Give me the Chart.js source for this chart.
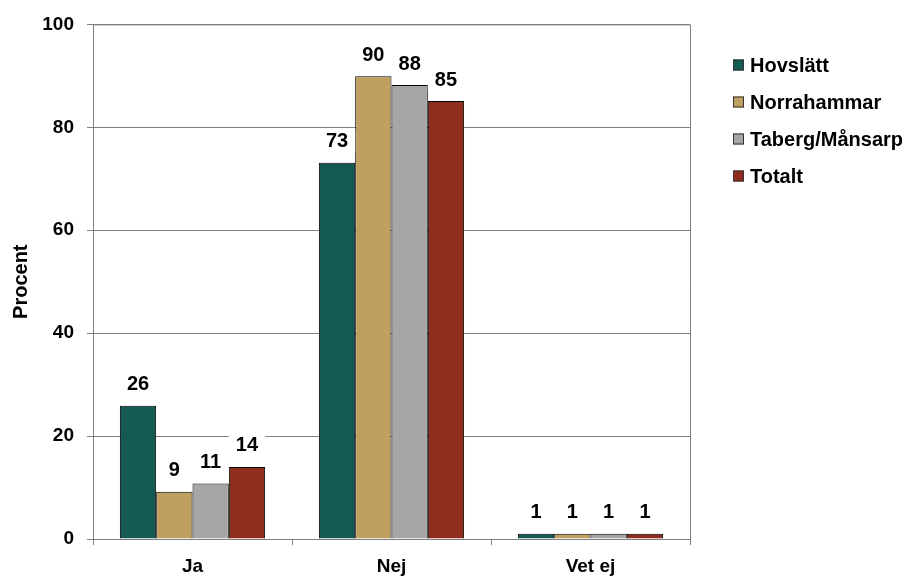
<!DOCTYPE html>
<html>
<head>
<meta charset="utf-8">
<script src="https://cdn.jsdelivr.net/npm/chart.js@4"></script>
<style>
  html, body { margin: 0; padding: 0; background: #ffffff; }
  #svarChart { display: block; }
</style>
</head>
<body>
<canvas id="svarChart" width="917" height="576"></canvas>
<script>
const categories = ["Ja", "Nej", "Vet ej"];
const hovslatt = [25.9, 73.1, 1];
const norrahammar = [9.2, 89.9, 1];
const tabergMansarp = [10.8, 88.2, 1];
const totalt = [14.0, 85.1, 1];
const yTicks = [0, 20, 40, 60, 80, 100];

const FONT = "'Liberation Sans', Arial, sans-serif";
const GRID = "#808080";

const ctx = document.getElementById("svarChart").getContext("2d");

// frame round the plot area (top + right side)
const plotFrame = {
    id: "plotFrame",
    afterDraw: (chart) => {
        const a = chart.chartArea;
        const c = chart.ctx;
        c.save();
        c.strokeStyle = GRID;
        c.lineWidth = 1;
        c.beginPath();
        c.moveTo(a.left, a.top + 0.5);
        c.lineTo(a.right + 0.5, a.top + 0.5);
        c.lineTo(a.right + 0.5, a.bottom + 5);
        c.stroke();
        c.restore();
    }
};

// value labels over the bars, on a white box
const valueLabels = {
    id: "valueLabels",
    afterDatasetsDraw: (chart) => {
        const c = chart.ctx;
        c.save();
        c.font = "bold 20px " + FONT;
        c.textAlign = "center";
        c.textBaseline = "middle";
        chart.data.datasets.forEach((ds, i) => {
            chart.getDatasetMeta(i).data.forEach((bar, j) => {
                const txt = String(Math.round(ds.data[j]));
                const w = c.measureText(txt).width + 14;
                const y = bar.y - 22;
                c.fillStyle = "#ffffff";
                c.fillRect(bar.x - w / 2, y - 11, w, 22);
                c.fillStyle = "#000000";
                c.fillText(txt, bar.x, y + 1);
            });
        });
        c.restore();
    }
};

// legend to the right of the plot
const sideLegend = {
    id: "sideLegend",
    afterDraw: (chart) => {
        const c = chart.ctx;
        c.save();
        c.font = "bold 20px " + FONT;
        c.textAlign = "left";
        c.textBaseline = "middle";
        chart.data.datasets.forEach((ds, i) => {
            const y = 65 + i * 37;
            c.fillStyle = ds.backgroundColor;
            c.fillRect(733, y - 5.5, 11, 11);
            c.strokeStyle = "#333333";
            c.lineWidth = 1;
            c.strokeRect(733.5, y - 5, 10, 10);
            c.fillStyle = "#000000";
            c.fillText(ds.label, 750, y + 1);
        });
        c.restore();
    }
};

new Chart(ctx, {
    type: "bar",
    data: {
        labels: categories,
        datasets: [
            { label: "Hovslätt", data: hovslatt, backgroundColor: "#155b54" },
            { label: "Norrahammar", data: norrahammar, backgroundColor: "#c0a05e" },
            { label: "Taberg/Månsarp", data: tabergMansarp, backgroundColor: "#a6a6a6" },
            { label: "Totalt", data: totalt, backgroundColor: "#8f2e1f" }
        ].map(d => Object.assign(d, {
            borderColor: "#000000",
            borderWidth: 1,
            categoryPercentage: 0.73,
            barPercentage: 1.0
        }))
    },
    options: {
        responsive: false,
        animation: false,
        layout: {
            padding: { top: 19, right: 227, bottom: 0, left: 0 }
        },
        plugins: {
            legend: { display: false },
            tooltip: { enabled: false }
        },
        scales: {
            x: {
                grid: {
                    drawOnChartArea: false,
                    drawTicks: true,
                    tickLength: 6,
                    color: GRID
                },
                border: { color: GRID },
                ticks: {
                    color: "#000000",
                    padding: 10,
                    font: { family: FONT, size: 19, weight: "bold" }
                },
                afterFit: (scale) => { scale.height = 37; }
            },
            y: {
                min: 0,
                max: 100,
                afterBuildTicks: (scale) => {
                    scale.ticks = yTicks.map(v => ({ value: v }));
                },
                grid: {
                    color: GRID,
                    tickLength: 6
                },
                border: { color: GRID },
                ticks: {
                    color: "#000000",
                    padding: 13,
                    font: { family: FONT, size: 19, weight: "bold" }
                },
                title: {
                    display: true,
                    text: "Procent",
                    color: "#000000",
                    padding: { top: 9, bottom: 0 },
                    font: { family: FONT, size: 20, weight: "bold" }
                },
                afterFit: (scale) => { scale.width = 93; }
            }
        }
    },
    plugins: [plotFrame, valueLabels, sideLegend]
});
</script>
</body>
</html>
